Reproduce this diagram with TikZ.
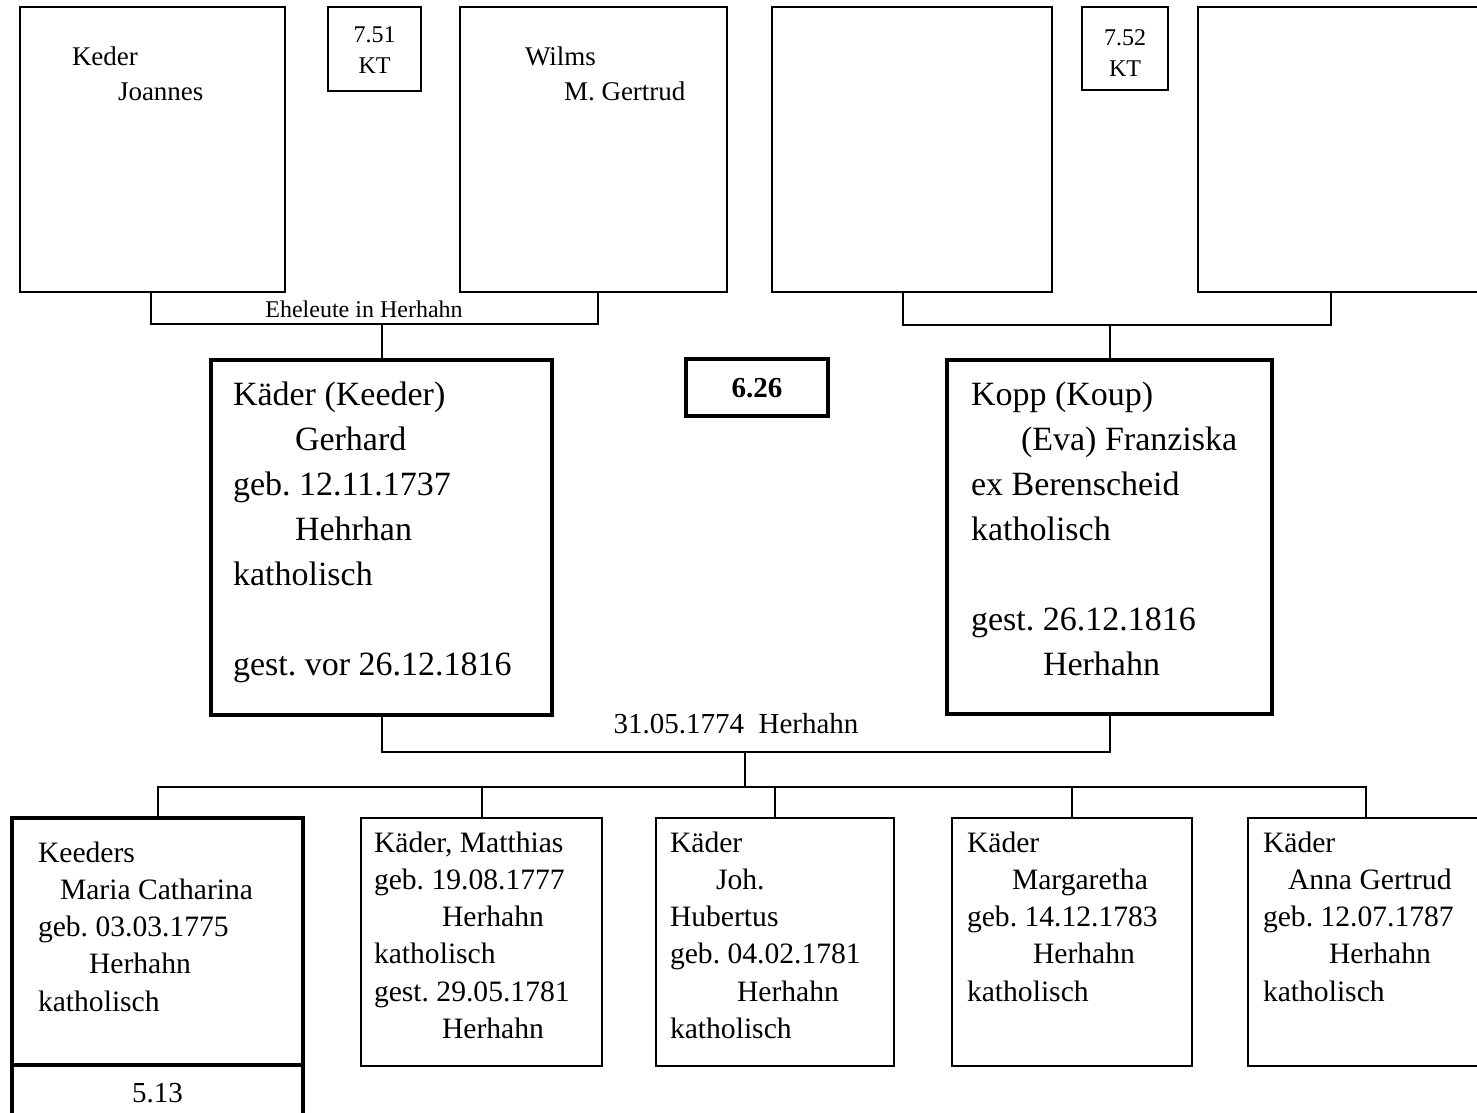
\documentclass[tikz,border=0pt]{standalone}
\usepackage{fontspec}
\setmainfont{Liberation Serif}
\frenchspacing
% left-aligned block of lines whose baseline is the first line
\newcommand{\pedlines}[1]{\begin{tabular}[t]{@{}l@{}}#1\end{tabular}}
\newcommand{\pedcenter}[1]{\begin{tabular}[t]{@{}c@{}}#1\end{tabular}}
\begin{document}
\begin{tikzpicture}[x=1pt,y=-1pt,
  card/.style={draw, line width=2pt, anchor=north west, inner sep=0pt, outer sep=0pt},
  heavy/.style={card, line width=3.5pt},
  link/.style={line width=2pt},
  txt/.style={anchor=base west, inner sep=0pt, outer sep=0pt},
  big/.style={txt, font=\fontsize{34}{45}\selectfont},
  kid/.style={txt, font=\fontsize{29.6}{37.3}\selectfont},
  top/.style={txt, font=\fontsize{27}{35}\selectfont},
  tag/.style={anchor=base, inner sep=0pt, outer sep=0pt, font=\fontsize{24}{31}\selectfont},
]
\clip (0,0) rectangle (1477,1112);
\fill[white] (0,0) rectangle (1477,1112);

% grandparents
\node[card, minimum width=265pt, minimum height=285pt] (A) at (20,7) {};
\node[card, minimum width=93pt, minimum height=84pt] (t1) at (328,7) {};
\node[card, minimum width=267pt, minimum height=285pt] (B) at (460,7) {};
\node[card, minimum width=280pt, minimum height=285pt] (D) at (772,7) {};
\node[card, minimum width=86pt, minimum height=83pt] (t2) at (1082,7) {};
\node[card, minimum width=300pt, minimum height=285pt] (E) at (1198,7) {};

\node[top] (At) at (72,65) {\pedlines{Keder\\\hspace*{46pt}Joannes}};
\node[top] (Bt) at (525,65) {\pedlines{Wilms\\\hspace*{39pt}M. Gertrud}};
\node[tag] (t1t) at (t1.north |- 0,42) {\pedcenter{7.51\\KT}};
\node[tag] (t2t) at (t2.north |- 0,45) {\pedcenter{7.52\\KT}};
\node[tag] (lab1) at (364,317) {Eheleute in Herhahn};

% parents
\node[heavy, minimum width=341pt, minimum height=355pt] (C) at (211,360) {};
\node[heavy, minimum width=142pt, minimum height=57pt] (G) at (686,359) {};
\node[heavy, minimum width=325pt, minimum height=354pt] (F) at (947,360) {};

\node[big] (Ct) at (233,405) {\pedlines{Käder (Keeder)\\\hspace*{62pt}Gerhard\\geb. 12.11.1737\\\hspace*{62pt}Hehrhan\\katholisch\\\\gest. vor 26.12.1816}};
\node[tag, font=\bfseries\fontsize{29}{35}\selectfont] (Gt) at (G.north |- 0,397) {6.26};
\node[big] (Ft) at (971,405) {\pedlines{Kopp (Koup)\\\hspace*{50pt}(Eva) Franziska\\ex Berenscheid\\katholisch\\\\gest. 26.12.1816\\\hspace*{72pt}Herhahn}};
\node[tag, font=\fontsize{29}{35}\selectfont] (mlab) at (736,733) {31.05.1774\ \ Herhahn};

% children
\node[heavy, minimum width=291pt, minimum height=247pt] (K1) at (12,818) {};
\node[heavy, minimum width=291pt, minimum height=80pt] (K1b) at (12,1065) {};
\node[card, minimum width=241pt, minimum height=248pt] (K2) at (361,818) {};
\node[card, minimum width=238pt, minimum height=248pt] (K3) at (656,818) {};
\node[card, minimum width=240pt, minimum height=248pt] (K4) at (952,818) {};
\node[card, minimum width=260pt, minimum height=248pt] (K5) at (1248,818) {};

\node[kid] (K1t) at (38,862) {\pedlines{Keeders\\\hspace*{22pt}Maria Catharina\\geb. 03.03.1775\\\hspace*{51pt}Herhahn\\katholisch}};
\node[tag, font=\fontsize{29}{35}\selectfont] (K1bt) at (K1b.north |- 0,1102) {5.13};
\node[kid] (K2t) at (374,852) {\pedlines{Käder, Matthias\\geb. 19.08.1777\\\hspace*{68pt}Herhahn\\katholisch\\gest. 29.05.1781\\\hspace*{68pt}Herhahn}};
\node[kid] (K3t) at (670,852) {\pedlines{Käder\\\hspace*{46pt}Joh.\\Hubertus\\geb. 04.02.1781\\\hspace*{67pt}Herhahn\\katholisch}};
\node[kid] (K4t) at (967,852) {\pedlines{Käder\\\hspace*{45pt}Margaretha\\geb. 14.12.1783\\\hspace*{66pt}Herhahn\\katholisch}};
\node[kid] (K5t) at (1263,852) {\pedlines{Käder\\\hspace*{25pt}Anna Gertrud\\geb. 12.07.1787\\\hspace*{66pt}Herhahn\\katholisch}};

% connectors
\coordinate (jL) at (376,324);
\draw[link] ([xshift=-2pt]A.south) |- (jL) -| ([xshift=4.5pt]B.south);
\draw[link] (jL -| C.north) -- (C.north);

\coordinate (jR) at (1108,325);
\draw[link] ([xshift=-9pt]D.south) |- (jR) -| ([xshift=133pt]E.south west);
\draw[link] (jR -| F.north) -- (F.north);

\coordinate (jM) at (745,752);
\coordinate (bus) at (745,787);
\draw[link] (C.south) |- (jM) -| (F.south);
\draw[link] (jM) -- (bus);
\draw[link] (K1.north) |- (bus) -| ([xshift=118pt]K5.north west);
\draw[link] (K2.north |- bus) -- (K2.north);
\draw[link] (K3.north |- bus) -- (K3.north);
\draw[link] (K4.north |- bus) -- (K4.north);
\end{tikzpicture}
\end{document}
